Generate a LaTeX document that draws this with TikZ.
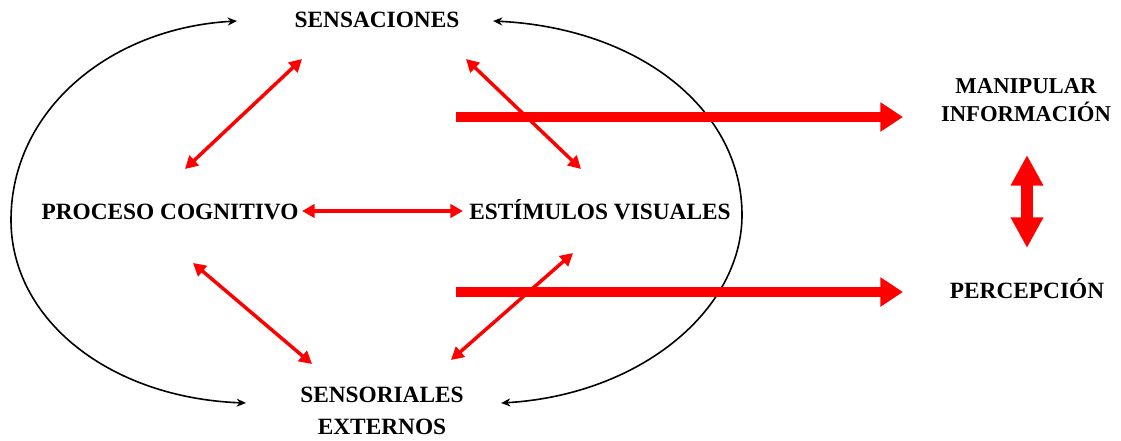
\documentclass[tikz,border=0pt]{standalone}
\usepackage{fontspec}
\setmainfont{Liberation Serif}
\usetikzlibrary{arrows.meta}
\begin{document}
\begin{tikzpicture}[x=0.75pt,y=-0.75pt,
  lbl/.style={font=\fontsize{17.5}{21}\selectfont\bfseries, align=center, inner sep=0pt},
  thinred/.style={draw=red, line width=2.6pt, {Triangle[length=9.5pt,width=10pt]}-{Triangle[length=9.5pt,width=10pt]}},
  thickred/.style={draw=red, line width=7pt, -{Triangle[length=17pt,width=21pt]}},
  vertred/.style={draw=red, line width=9pt, {Triangle[length=23pt,width=23pt]}-{Triangle[length=23pt,width=23pt]}},
  loopline/.style={draw=black, line width=1.2pt, {Stealth[length=7pt,width=6pt]}-{Stealth[length=7pt,width=6pt]}}]
\useasboundingbox (0,0) rectangle (1121,440);

% labels
\node[lbl, anchor=base] (sens) at (377,27) {SENSACIONES};
\node[lbl, anchor=base] (proc) at (170,219) {PROCESO COGNITIVO};
\node[lbl, anchor=base] (esti) at (600,219) {ESTÍMULOS VISUALES};
\node[lbl, anchor=north, font=\fontsize{17.5}{23.5}\selectfont\bfseries] (ext) at (382,387) {SENSORIALES\\EXTERNOS};
\node[lbl, anchor=north, font=\fontsize{17}{21.5}\selectfont\bfseries] (mani) at (1026,78) {MANIPULAR\\INFORMACIÓN};
\node[lbl, anchor=base] (perc) at (1027,298) {PERCEPCIÓN};

% connector end points
\coordinate (sensL) at (237,21);
\coordinate (sensR) at (493,21);
\coordinate (extL) at (246,403);
\coordinate (extR) at (501,403);
\coordinate (lftmid) at (11,220);
\coordinate (rgtmid) at (742,215);

\coordinate (a1) at (185,169);
\coordinate (a2) at (302,59);
\coordinate (b1) at (466,59);
\coordinate (b2) at (581,169);
\coordinate (c1) at (193,263);
\coordinate (c2) at (312,364);
\coordinate (d1) at (573,253);
\coordinate (d2) at (451,360);
\coordinate (h1) at (302,211);
\coordinate (h2) at (463,211);
\coordinate (t1) at (456,117);
\coordinate (t2) at (903,117);
\coordinate (u1) at (456,292);
\coordinate (u2) at (903,292);
\coordinate (v1) at (1027,155);
\coordinate (v2) at (1027,248);

% black loops
\draw[loopline] (sensL) .. controls (110,28) and (11,110) .. (lftmid)
                .. controls (11,320) and (110,398) .. (extL);
\draw[loopline] (sensR) .. controls (640,28) and (742,110) .. (rgtmid)
                .. controls (742,310) and (640,395) .. (extR);

% red arrows
\draw[thinred] (a1) -- (a2);
\draw[thinred] (b1) -- (b2);
\draw[thinred] (c1) -- (c2);
\draw[thinred] (d1) -- (d2);
\draw[thinred] (h1) -- (h2);
\draw[thickred] (t1) -- (t2);
\draw[thickred] (u1) -- (u2);
\draw[vertred] (v1) -- (v2);
\end{tikzpicture}
\end{document}
